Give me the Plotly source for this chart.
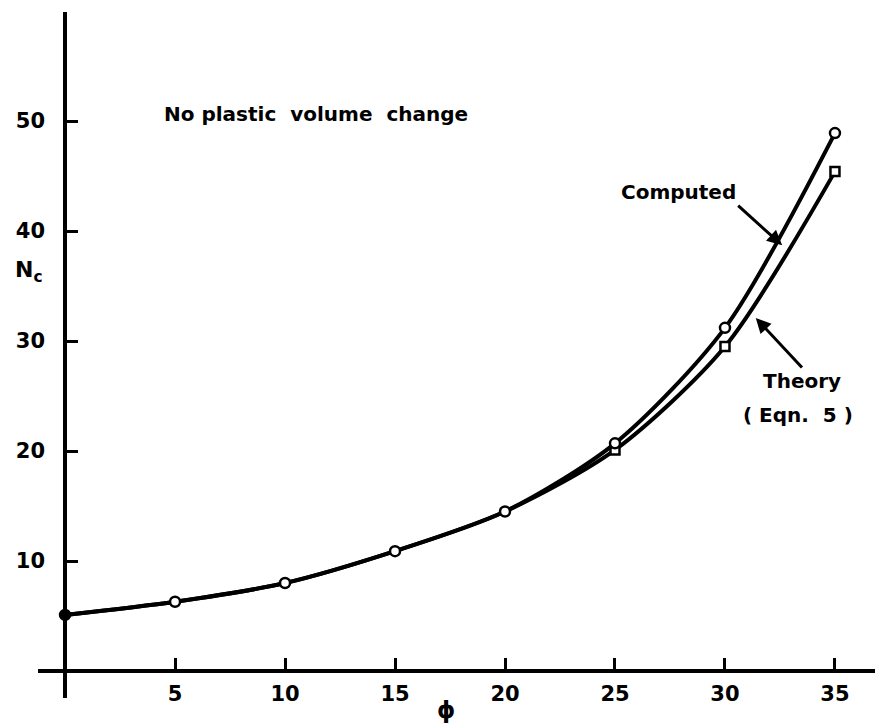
import plotly.graph_objects as go

# Bearing capacity factor Nc against friction angle phi
phi = [0, 5, 10, 15, 20, 25, 30, 35]
nc_computed = [5.1, 6.3, 8.0, 10.9, 14.5, 20.7, 31.2, 48.9]
nc_theory = [5.1, 6.3, 8.0, 10.9, 14.5, 20.1, 29.5, 45.4]

x_ticks = [5, 10, 15, 20, 25, 30, 35]
y_ticks = [10, 20, 30, 40, 50]

x_range = [-1.23, 36.82]
y_range = [-2.45, 59.91]

FONT = "DejaVu Sans"
INK = "black"

fig = go.Figure()

# theory squares only where the two series part company
theory_opacity = [0 if t == c else 1 for t, c in zip(nc_theory, nc_computed)]
fig.add_trace(go.Scatter(
    x=phi, y=nc_theory, mode="lines+markers", name="Theory",
    line=dict(color=INK, width=4, shape="spline", smoothing=0.8),
    marker=dict(symbol="square", size=9, color="white", opacity=theory_opacity,
                line=dict(color=INK, width=2.5)),
))

computed_fill = ["black"] + ["white"] * (len(phi) - 1)
fig.add_trace(go.Scatter(
    x=phi, y=nc_computed, mode="lines+markers", name="Computed",
    line=dict(color=INK, width=4, shape="spline", smoothing=0.8),
    marker=dict(symbol="circle", size=10, color=computed_fill,
                line=dict(color=INK, width=2.5)),
))

tick_font = dict(family=FONT, size=21, color=INK, weight="bold")

fig.update_xaxes(
    range=x_range, anchor="free",
    position=-y_range[0] / (y_range[1] - y_range[0]),
    showline=True, linecolor=INK, linewidth=3.5,
    showgrid=False, zeroline=False,
    tickmode="array", tickvals=x_ticks, ticktext=[str(v) for v in x_ticks],
    ticks="inside", ticklen=11, tickwidth=2.5, tickcolor=INK,
    tickfont=tick_font, ticklabelstandoff=3,
)
fig.update_yaxes(
    range=y_range, anchor="free",
    position=-x_range[0] / (x_range[1] - x_range[0]),
    showline=True, linecolor=INK, linewidth=3.5,
    showgrid=False, zeroline=False,
    tickmode="array", tickvals=y_ticks, ticktext=[str(v) for v in y_ticks],
    ticks="inside", ticklen=11, tickwidth=2.5, tickcolor=INK,
    tickfont=tick_font, ticklabelstandoff=14,
)

label_font = dict(family=FONT, size=20, color=INK, weight="bold")

annotations = [
    dict(x=0.148, y=0.851, xref="paper", yref="paper", text="No plastic  volume  change",
         showarrow=False, xanchor="left", yanchor="middle", font=label_font),
    dict(x=-0.030, y=0.622, xref="paper", yref="paper", text="N<sub>c</sub>",
         showarrow=False, xanchor="left", yanchor="middle",
         font=dict(family=FONT, size=22, color=INK, weight="bold")),
    dict(x=0.488, y=-0.018, xref="paper", yref="paper", text="ϕ",
         showarrow=False, xanchor="center", yanchor="middle",
         font=dict(family=FONT, size=23, color=INK, weight="bold")),
    # labels with pointer arrows onto the curves
    dict(x=32.6, y=38.7, ax=30.6, ay=42.3, axref="x", ayref="y", text="Computed",
         xanchor="right", yanchor="bottom", font=label_font,
         showarrow=True, arrowhead=2, arrowsize=1, arrowwidth=3, arrowcolor=INK),
    dict(x=31.4, y=32.1, ax=33.5, ay=27.6, axref="x", ayref="y", text="Theory",
         xanchor="center", yanchor="top", font=label_font,
         showarrow=True, arrowhead=2, arrowsize=1, arrowwidth=3, arrowcolor=INK),
    dict(x=33.3, y=23.3, text="( Eqn.  5 )", showarrow=False,
         xanchor="center", yanchor="middle", font=label_font),
]

fig.update_layout(
    width=875, height=723,
    margin=dict(l=38, r=0, t=12, b=25),
    paper_bgcolor="white", plot_bgcolor="white",
    showlegend=False,
    annotations=annotations,
)

fig.write_html("out.html")
